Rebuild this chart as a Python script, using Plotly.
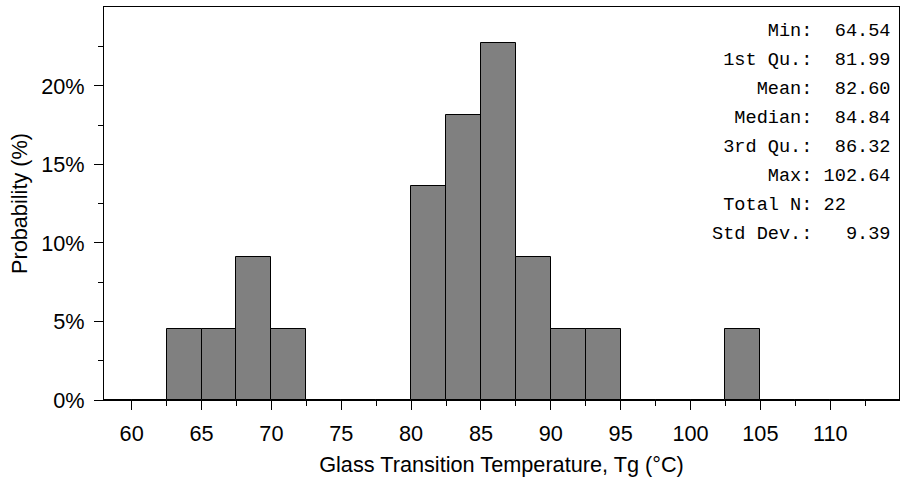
import plotly.graph_objects as go

# Histogram data: bin left edges (width 2.5) and counts
bin_starts = [57.5, 60.0, 62.5, 65.0, 67.5, 70.0, 72.5, 75.0, 77.5, 80.0, 82.5, 85.0,
              87.5, 90.0, 92.5, 95.0, 97.5, 100.0, 102.5, 105.0, 107.5, 110.0, 112.5]
counts = [0, 0, 1, 1, 2, 1, 0, 0, 0, 3, 4, 5, 2, 1, 1, 0, 0, 0, 1, 0, 0, 0, 0]
bin_width = 2.5
total_n = 22

x_ticks = [60, 65, 70, 75, 80, 85, 90, 95, 100, 105, 110]
x_minor = [57.5, 62.5, 67.5, 72.5, 77.5, 82.5, 87.5, 92.5, 97.5, 102.5, 107.5, 112.5]
y_ticks = [0, 5, 10, 15, 20]
y_tick_labels = ["0%", "5%", "10%", "15%", "20%"]
y_minor = [2.5, 7.5, 12.5, 17.5, 22.5]

stat_labels = ["Min:", "1st Qu.:", "Mean:", "Median:", "3rd Qu.:", "Max:", "Total N:", "Std Dev.:"]
stat_values = ["64.54", "81.99", "82.60", "84.84", "86.32", "102.64", "22", "9.39"]

centers = [s + bin_width / 2 for s in bin_starts]
pct = [c / total_n * 100 for c in counts]

fig = go.Figure()
fig.add_trace(go.Bar(
    x=centers, y=pct, width=[bin_width] * len(centers),
    marker=dict(color="#808080", line=dict(color="black", width=1)),
    hoverinfo="skip",
))

W, H = 900, 481
ml, mr, mt, mb = 104, 1, 7, 81
pw, ph = W - ml - mr, H - mt - mb

font = dict(family="Arial, Liberation Sans, sans-serif", size=21.7, color="black")

fig.update_layout(
    width=W, height=H,
    margin=dict(l=ml, r=mr, t=mt, b=mb, pad=0),
    paper_bgcolor="white", plot_bgcolor="white",
    showlegend=False, bargap=0,
    font=font,
    xaxis=dict(
        range=[58.02, 114.92], tickmode="array", tickvals=x_ticks,
        ticks="outside", ticklen=9, tickwidth=1, tickcolor="black",
        minor=dict(tickmode="array", tickvals=x_minor, ticks="outside", ticklen=5,
                   tickwidth=1, tickcolor="black"),
        showline=True, linecolor="black", linewidth=1, mirror=True,
        showgrid=False, zeroline=False,
        ticklabelstandoff=5,
        title=dict(text="Glass Transition Temperature, Tg (°C)", font=font, standoff=11),
        tickfont=font,
    ),
    yaxis=dict(
        range=[0, 25.03], tickmode="array", tickvals=y_ticks, ticktext=y_tick_labels,
        ticks="outside", ticklen=9, tickwidth=1, tickcolor="black",
        minor=dict(tickmode="array", tickvals=y_minor, ticks="outside", ticklen=5,
                   tickwidth=1, tickcolor="black"),
        showline=True, linecolor="black", linewidth=1, mirror=True,
        showgrid=False, zeroline=False,
        ticklabelstandoff=5,
        title=dict(text="Probability (%)", font=font, standoff=7),
        tickfont=font,
    ),
)

mono = dict(family="Courier New, Liberation Mono, monospace", size=18.6, color="black")
nb = "\u00a0"
for i, (lab, val) in enumerate(zip(stat_labels, stat_values)):
    v = val.ljust(6) if "." not in val else val.rjust(6)
    line = lab.rjust(9) + " " + v
    y_px = 32 + 28.9 * i
    fig.add_annotation(
        text=line.replace(" ", nb), xref="paper", yref="paper",
        x=(893 - ml) / pw, y=(400 - y_px) / ph,
        xanchor="right", yanchor="middle", showarrow=False, font=mono, align="right",
    )

fig.write_html("out.html")
